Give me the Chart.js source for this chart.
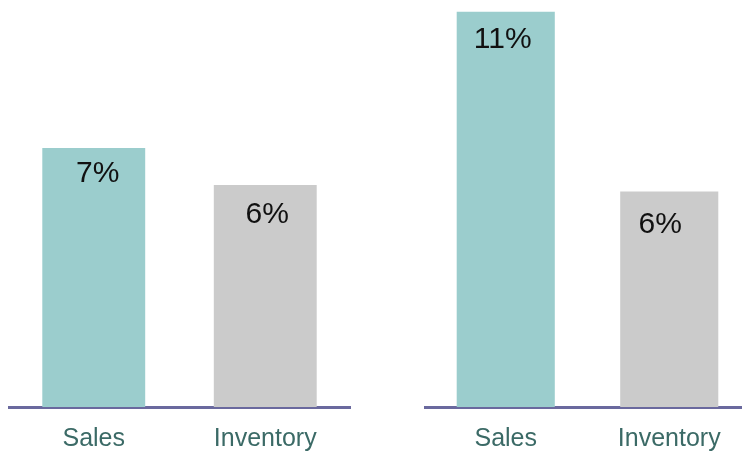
<!DOCTYPE html>
<html lang="en">

<head>
    <meta charset="UTF-8" />
    <title>Sales vs Inventory</title>
    <style>
        * {
            margin: 0;
            padding: 0;
            font-family: "Liberation Sans", Arial, sans-serif;
        }

        body {
            width: 742px;
            height: 454px;
            overflow: hidden;
            position: relative;
            background: #fff;
        }

        .box {
            position: absolute;
            top: 0;
            height: 454px;
        }

        #boxLeft {
            left: 8px;
            width: 343px;
        }

        #boxRight {
            left: 424px;
            width: 327px;
        }
    </style>
</head>

<body>
    <div class="box" id="boxLeft"><canvas id="chartLeft"></canvas></div>
    <div class="box" id="boxRight"><canvas id="chartRight"></canvas></div>
    <script src="https://cdn.jsdelivr.net/npm/chart.js@4"></script>
    <script>
        const categories = ["Sales", "Inventory"];
        const leftValues = [7, 6];
        const rightValues = [11, 6];
        const barColors = ["#9bcdcd", "#cbcbcb"];

        // draws the "7%" style labels inside the top of each bar
        const valueLabels = {
            id: "valueLabels",
            afterDatasetsDraw(chart, args, opts) {
                const ctx = chart.ctx;
                const meta = chart.getDatasetMeta(0);
                const shifts = opts.shifts || [];
                ctx.save();
                ctx.font = "30px 'Liberation Sans', Arial, sans-serif";
                ctx.fillStyle = "#111111";
                ctx.textAlign = "center";
                ctx.textBaseline = "middle";
                meta.data.forEach(function (bar, i) {
                    const value = chart.data.datasets[0].data[i];
                    const s = shifts[i] || [0, 29];
                    ctx.fillText(value + "%", bar.x + s[0], bar.y + s[1]);
                });
                ctx.restore();
            },
        };

        function makeChart(id, values, yMax, shifts) {
            const ctx = document.getElementById(id).getContext("2d");
            return new Chart(ctx, {
                type: "bar",
                data: {
                    labels: categories,
                    datasets: [
                        {
                            data: values,
                            backgroundColor: barColors,
                            borderWidth: 0,
                            barPercentage: 0.6,
                            categoryPercentage: 1,
                        },
                    ],
                },
                options: {
                    responsive: true,
                    maintainAspectRatio: false,
                    animation: false,
                    layout: { padding: 0 },
                    plugins: {
                        legend: { display: false },
                        tooltip: { enabled: false },
                        valueLabels: { shifts: shifts },
                    },
                    scales: {
                        x: {
                            grid: { display: false, drawTicks: false },
                            border: {
                                display: true,
                                color: "#6a699e",
                                width: 3,
                            },
                            ticks: {
                                color: "#3b6a66",
                                padding: 17,
                                font: { size: 25, family: "'Liberation Sans', Arial, sans-serif" },
                            },
                            afterFit: function (scale) {
                                scale.height = 47;
                            },
                        },
                        y: {
                            display: false,
                            min: 0,
                            max: yMax,
                        },
                    },
                },
                plugins: [valueLabels],
            });
        }

        makeChart("chartLeft", leftValues, 11, [[4, 26], [2, 30]]);
        makeChart("chartRight", rightValues, 11.33, [[-3, 28], [-9, 33]]);
    </script>
</body>

</html>
